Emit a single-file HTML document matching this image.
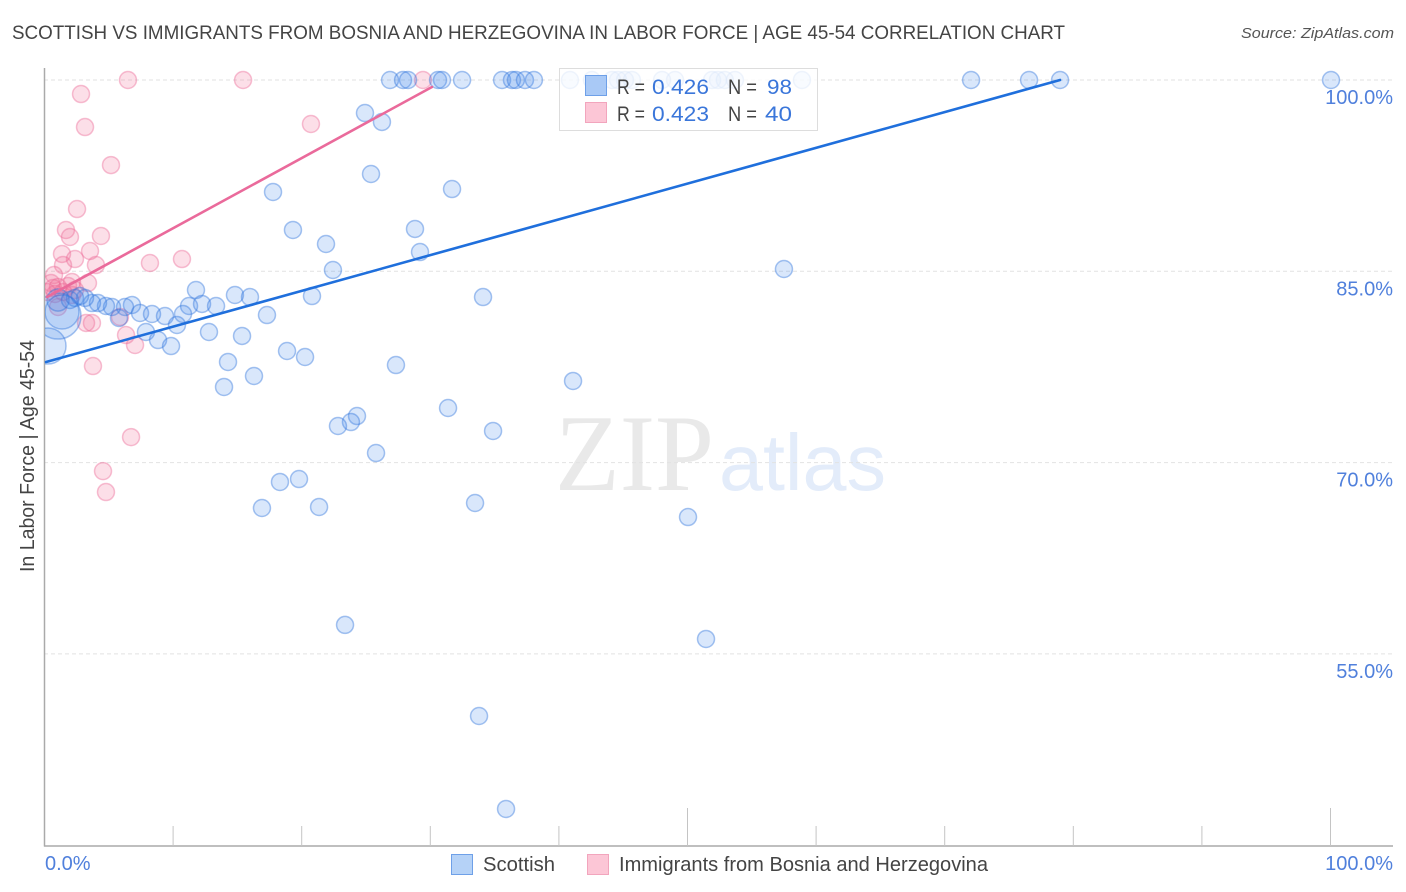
<!DOCTYPE html>
<html>
<head>
<meta charset="utf-8">
<title>Scottish vs Immigrants from Bosnia and Herzegovina in Labor Force</title>
<style>
html,body{margin:0;padding:0;background:#fff;}
svg{display:block;font-family:"Liberation Sans",sans-serif;}
</style>
</head>
<body>
<svg id="chart" width="1406" height="892" viewBox="0 0 1406 892" xmlns="http://www.w3.org/2000/svg">
  <defs>
    <clipPath id="plot-clip"><rect x="45" y="60" width="1361" height="786"></rect></clipPath>
  </defs>
  <text x="12" y="39" font-size="19" fill="#444" textLength="1053" lengthAdjust="spacingAndGlyphs">SCOTTISH VS IMMIGRANTS FROM BOSNIA AND HERZEGOVINA IN LABOR FORCE | AGE 45-54 CORRELATION CHART</text>
  <text x="1241" y="38" font-size="15" font-style="italic" fill="#555" textLength="153" lengthAdjust="spacingAndGlyphs">Source: ZipAtlas.com</text>
  <g>
    <text x="555" y="490" font-family="'Liberation Serif',serif" font-size="109" fill="#e9e9e9" textLength="159" lengthAdjust="spacingAndGlyphs">ZIP</text>
    <text x="719" y="490" font-size="80" fill="#e3ecfa" textLength="167" lengthAdjust="spacingAndGlyphs">atlas</text>
  </g>
  <g id="grid"></g>
  <g id="axes"></g>
  <g id="points" clip-path="url(#plot-clip)"></g>
  <g id="trends"></g>
  <g>
    <rect x="559.5" y="68.5" width="258" height="62" fill="#fff" fill-opacity="0.82" stroke="#ddd" stroke-width="1"></rect>
    <rect x="585.5" y="75.5" width="21" height="20" fill="#a9c9f6" stroke="#6ea0e8" stroke-width="1"></rect>
    <rect x="585.5" y="102.5" width="21" height="20" fill="#fcc6d6" stroke="#f2a5bd" stroke-width="1"></rect>
    <g font-size="21">
      <text x="617" y="94" fill="#444" textLength="28" lengthAdjust="spacingAndGlyphs">R =</text>
      <text x="652" y="94" fill="#3a76da" textLength="57" lengthAdjust="spacingAndGlyphs">0.426</text>
      <text x="728" y="94" fill="#444" textLength="29" lengthAdjust="spacingAndGlyphs">N =</text>
      <text x="767" y="94" fill="#3a76da" textLength="25" lengthAdjust="spacingAndGlyphs">98</text>
      <text x="617" y="121" fill="#444" textLength="28" lengthAdjust="spacingAndGlyphs">R =</text>
      <text x="652" y="121" fill="#3a76da" textLength="57" lengthAdjust="spacingAndGlyphs">0.423</text>
      <text x="728" y="121" fill="#444" textLength="29" lengthAdjust="spacingAndGlyphs">N =</text>
      <text x="765" y="121" fill="#3a76da" textLength="27" lengthAdjust="spacingAndGlyphs">40</text>
    </g>
  </g>
  <text transform="translate(34,572) rotate(-90)" font-size="20" fill="#444" textLength="232" lengthAdjust="spacingAndGlyphs">In Labor Force | Age 45-54</text>
  <g>
    <rect x="451.5" y="854.5" width="21" height="20" fill="#b5d2f7" stroke="#6ea0e8" stroke-width="1"></rect>
    <text x="483" y="871" font-size="20" fill="#444" textLength="72" lengthAdjust="spacingAndGlyphs">Scottish</text>
    <rect x="587.5" y="854.5" width="21" height="20" fill="#fcc6d6" stroke="#f2a5bd" stroke-width="1"></rect>
    <text x="619" y="871" font-size="20" fill="#444" textLength="369" lengthAdjust="spacingAndGlyphs">Immigrants from Bosnia and Herzegovina</text>
  </g>
</svg>
<script>
const xTickValues = [0,10,20,30,40,50,60,70,80,90,100];
const xTickMajor = [50,100];
const xTickLabels = ["0.0%","100.0%"];
const yTickValues = [100,85,70,55];
const yTickLabels = ["100.0%","85.0%","70.0%","55.0%"];

const bosniaX = [6.49,15.44,29.43,2.84,3.15,5.17,20.72,2.53,1.67,1.98,4.39,3.54,1.36,2.37,1.44,4.0,8.2,10.69,0.74,3.38,2.14,0.51,0.66,1.05,1.83,2.37,0.82,1.44,2.14,1.05,3.23,3.69,5.87,6.34,7.04,3.77,6.73,4.55,4.78,0.19];
const bosniaY = [100,100,100,98.9,96.31,93.33,96.55,89.88,88.24,87.69,87.77,86.59,86.36,85.96,85.49,85.49,85.65,85.96,84.71,84.08,84.16,84.08,83.69,83.77,83.85,83.53,83.22,83.38,83.14,82.2,80.95,80.95,81.42,80.0,79.22,77.57,72.0,69.33,67.69,83.38];

const scottishX = [1.05,1.36,0.27,1.05,26.87,27.88,28.27,30.6,30.91,32.47,35.58,36.35,36.66,37.36,38.06,40.86,42.57,44.13,44.6,45.14,45.68,48.02,49.03,51.91,52.37,52.9,53.69,58.9,72.05,76.56,78.97,100.04,24.92,26.24,25.39,31.69,17.77,19.32,21.89,28.81,29.2,22.43,57.5,34.1,20.8,11.78,14.81,15.98,11.24,12.25,13.34,17.3,6.8,6.26,5.25,4.78,4.16,3.69,3.15,2.37,1.98,2.76,7.43,8.36,9.37,10.77,5.79,10.3,7.89,12.79,15.36,8.83,9.84,18.86,20.26,14.27,27.33,16.29,13.96,41.1,31.38,24.3,23.83,22.82,34.88,25.78,19.79,18.31,16.91,21.35,33.48,50.04,23.37,51.44,33.79,35.89];
const scottishY = [81.49,81.81,79.14,82.75,100,100,100,100,100,100,100,100,100,100,100,100,100,100,100,100,100,100,100,100,100,100,100,100,100,100,100,100,97.41,96.71,92.63,91.45,91.22,88.24,87.14,88.32,86.51,85.1,85.18,82.98,83.06,83.53,83.14,82.98,82.28,82.44,82.28,81.57,82.36,82.2,82.2,82.28,82.51,82.51,82.91,82.91,82.75,83.06,81.73,81.65,81.49,81.65,81.34,80.79,80.24,80.24,79.93,79.61,79.14,78.75,78.28,77.89,77.65,76.79,75.93,76.4,74.28,73.65,73.18,72.87,72.48,70.75,68.71,68.48,66.44,66.52,66.83,65.73,57.27,56.17,50.13,42.84];
const scottishWeight = [7.3,4,4.5,1.7];

const scottishTrendX = [0.12,78.97];
const scottishTrendY = [77.89,100];
const bosniaTrendX = [0.19,30.13];
const bosniaTrendY = [82.98,99.45];

const NS = "http://www.w3.org/2000/svg";
function sx(v){ return 44.5 + v * 12.86; }
function sy(v){ return 80 + (100 - v) * 12.753; }
function radius(w){ return 8.5 * Math.sqrt(w); }
function make(tag, attrs, parent){
  const el = document.createElementNS(NS, tag);
  for (const k in attrs) el.setAttribute(k, attrs[k]);
  parent.appendChild(el);
  return el;
}

const grid = document.getElementById('grid');
yTickValues.forEach(function(v){
  const l = make('line', {x1:44, x2:1393, y1:sy(v), y2:sy(v), stroke:'#e2e2e2', 'stroke-width':1, 'stroke-dasharray':'4 3'}, grid);
  
  
});

const axes = document.getElementById('axes');
const yAxisLine = make('line', {x1:44.5, x2:44.5, y1:68, y2:846.5, stroke:'#aaa', 'stroke-width':1.5}, axes);


const xAxisLine = make('line', {x1:44, x2:1393, y1:846, y2:846, stroke:'#aaa', 'stroke-width':1.5}, axes);


xTickValues.forEach(function(v){
  if (v === 0) return;
  const top = xTickMajor.indexOf(v) >= 0 ? 808 : 826;
  const t = make('line', {x1:sx(v), x2:sx(v), y1:top, y2:846, stroke:'#c4c4c4', 'stroke-width':1}, axes);
  
  
});
yTickValues.forEach(function(v, i){
  const t = make('text', {x:1393, y:sy(v)+24, 'text-anchor':'end', 'font-size':20, fill:'#5080dc'}, axes);
  t.textContent = yTickLabels[i];
  
  
});
const x0Label = make('text', {x:45, y:870, 'font-size':20, fill:'#5080dc'}, axes);
x0Label.textContent = xTickLabels[0];


const x1Label = make('text', {x:1393, y:870, 'text-anchor':'end', 'font-size':20, fill:'#5080dc'}, axes);
x1Label.textContent = xTickLabels[1];



const points = document.getElementById('points');
bosniaX.forEach(function(x, i){
  const c = make('circle', {cx:sx(x), cy:sy(bosniaY[i]), r:radius(1), fill:'rgba(240,110,150,0.22)', stroke:'rgba(235,105,150,0.42)', 'stroke-width':1.5}, points);
  
  
});
scottishX.forEach(function(x, i){
  const w = i < scottishWeight.length ? scottishWeight[i] : 1;
  const c = make('circle', {cx:sx(x), cy:sy(scottishY[i]), r:radius(w), fill:'rgba(65,135,235,0.2)', stroke:'rgba(45,115,220,0.42)', 'stroke-width':1.5}, points);
  
  
});

const trends = document.getElementById('trends');
const trendB = make('line', {x1:sx(scottishTrendX[0]), y1:sy(scottishTrendY[0]), x2:sx(scottishTrendX[1]), y2:sy(scottishTrendY[1]), stroke:'#1f6fdc', 'stroke-width':2.6, 'stroke-linecap':'round'}, trends);


const trendP = make('line', {x1:sx(bosniaTrendX[0]), y1:sy(bosniaTrendY[0]), x2:sx(bosniaTrendX[1]), y2:sy(bosniaTrendY[1]), stroke:'#ea6a9b', 'stroke-width':2.6, 'stroke-linecap':'round'}, trends);


</script>
</body>
</html>
